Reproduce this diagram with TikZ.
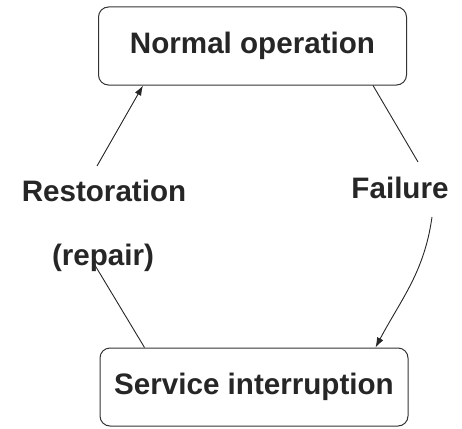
\documentclass[tikz,border=0pt]{standalone}
\usepackage{fontspec}
\setmainfont{Liberation Sans}
\usetikzlibrary{arrows.meta,positioning}
\tikzstyle{statebox}=[draw=black!80,line width=1pt,rounded corners=10pt,minimum width=308pt,minimum height=78pt,inner sep=0pt,font=\fontsize{29.6}{34}\selectfont\bfseries]
\tikzstyle{edgetext}=[anchor=base,inner sep=0pt,font=\fontsize{29.6}{34}\selectfont\bfseries]

\begin{document}
\begin{tikzpicture}[x=1pt,y=-1pt,
every path/.style={line width=0.9pt,black!85},
arr/.style={-{Latex[length=10pt,width=7pt]}}]
\useasboundingbox (0,0) rectangle (462,428);
\node [statebox] (normal) at (252.5,46) {Normal operation};
\node [statebox] (service) at (254,387) {Service interruption};
\node [edgetext] (restoration) at (104,201) {Restoration};
\node [edgetext] (repair) at (103,265) {(repair)};
\node [edgetext] (failure) at (400,198) {Failure};
% free ends of the connectors next to the labels
\coordinate (rtop) at (97,166);
\coordinate (rbot) at (93,262);
\coordinate (ftop) at (418,162);
\coordinate (fbot) at (432,217);
% restoration
\draw [arr] (rtop) -- ([xshift=45pt]normal.south west);
\draw ([xshift=45pt]service.north west) -- (rbot);
% failure
\draw ([xshift=-34pt]normal.south east) -- (ftop);
\draw [arr] (fbot) to[out=-98,in=62] ([xshift=-33pt]service.north east);
\end{tikzpicture}
\end{document}
